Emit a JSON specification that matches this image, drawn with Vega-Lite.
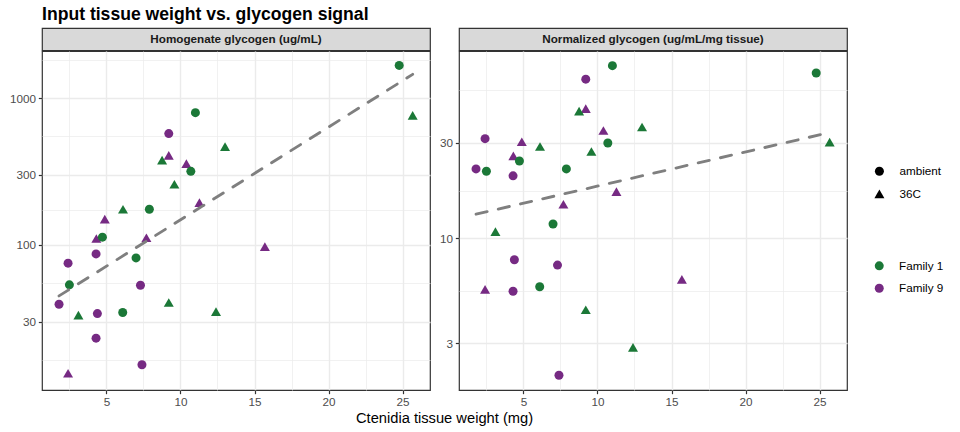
{
  "$schema": "https://vega.github.io/schema/vega-lite/v6.json",
  "background": "white",
  "padding": {"left": 8, "top": 5, "right": 5, "bottom": 2},
  "bounds": "flush",
  "columns": 2,
  "spacing": {"row": 0, "column": 29},
  "title": {"text": "Input tissue weight vs. glycogen signal", "anchor": "start", "frame": "group", "fontSize": 17.6, "fontWeight": "bold", "color": "black", "baseline": "alphabetic", "offset": -9.7},
  "datasets": {
    "pts": [
      {"w": 24.77, "hom": 1668, "norm": 66.7, "temp": "ambient", "fam": "Family 1"},
      {"w": 25.68, "hom": 762, "norm": 30.2, "temp": "36C", "fam": "Family 1"},
      {"w": 11.01, "hom": 795, "norm": 72.6, "temp": "ambient", "fam": "Family 1"},
      {"w": 9.21, "hom": 573, "norm": 62.2, "temp": "ambient", "fam": "Family 9"},
      {"w": 13.01, "hom": 467, "norm": 35.9, "temp": "36C", "fam": "Family 1"},
      {"w": 9.21, "hom": 407, "norm": 44.3, "temp": "36C", "fam": "Family 9"},
      {"w": 8.76, "hom": 378, "norm": 43.1, "temp": "36C", "fam": "Family 1"},
      {"w": 10.4, "hom": 358, "norm": 34.5, "temp": "36C", "fam": "Family 9"},
      {"w": 10.7, "hom": 317, "norm": 29.9, "temp": "ambient", "fam": "Family 1"},
      {"w": 9.59, "hom": 259, "norm": 27.1, "temp": "36C", "fam": "Family 1"},
      {"w": 11.28, "hom": 194, "norm": 17.1, "temp": "36C", "fam": "Family 9"},
      {"w": 7.9, "hom": 175, "norm": 22.2, "temp": "ambient", "fam": "Family 1"},
      {"w": 6.12, "hom": 175, "norm": 28.7, "temp": "36C", "fam": "Family 1"},
      {"w": 4.89, "hom": 150, "norm": 30.3, "temp": "36C", "fam": "Family 9"},
      {"w": 4.32, "hom": 110.7, "norm": 25.8, "temp": "36C", "fam": "Family 9"},
      {"w": 4.73, "hom": 113, "norm": 24.3, "temp": "ambient", "fam": "Family 1"},
      {"w": 7.7, "hom": 112, "norm": 14.8, "temp": "36C", "fam": "Family 9"},
      {"w": 15.7, "hom": 97.5, "norm": 6.25, "temp": "36C", "fam": "Family 9"},
      {"w": 4.3, "hom": 86.9, "norm": 20.5, "temp": "ambient", "fam": "Family 9"},
      {"w": 7.0, "hom": 81.6, "norm": 11.8, "temp": "ambient", "fam": "Family 1"},
      {"w": 2.41, "hom": 75.2, "norm": 31.4, "temp": "ambient", "fam": "Family 9"},
      {"w": 2.5, "hom": 53.5, "norm": 21.6, "temp": "ambient", "fam": "Family 1"},
      {"w": 7.3, "hom": 53.2, "norm": 7.36, "temp": "ambient", "fam": "Family 9"},
      {"w": 1.8, "hom": 39.5, "norm": 22.2, "temp": "ambient", "fam": "Family 9"},
      {"w": 9.21, "hom": 40.6, "norm": 4.41, "temp": "36C", "fam": "Family 1"},
      {"w": 3.11, "hom": 33.3, "norm": 10.8, "temp": "36C", "fam": "Family 1"},
      {"w": 4.39, "hom": 34.1, "norm": 7.83, "temp": "ambient", "fam": "Family 9"},
      {"w": 6.1, "hom": 34.7, "norm": 5.74, "temp": "ambient", "fam": "Family 1"},
      {"w": 12.4, "hom": 35.2, "norm": 2.86, "temp": "36C", "fam": "Family 1"},
      {"w": 4.3, "hom": 23.2, "norm": 5.45, "temp": "ambient", "fam": "Family 9"},
      {"w": 7.4, "hom": 15.3, "norm": 2.08, "temp": "ambient", "fam": "Family 9"},
      {"w": 2.41, "hom": 13.4, "norm": 5.57, "temp": "36C", "fam": "Family 9"}
    ],
    "fit": [
      {"w": 1.8, "hom": 45.0, "norm": 13.2},
      {"w": 25.68, "hom": 1449, "norm": 33.7}
    ],
    "strip1": [{"label": "Homogenate glycogen (ug/mL)"}],
    "strip2": [{"label": "Normalized glycogen (ug/mL/mg tissue)"}]
  },
  "concat": [
    {
      "data": {"name": "strip1"},
      "width": 388, "height": 22.4,
      "view": {"fill": "#D9D9D9", "stroke": "#333333", "strokeWidth": 1.2},
      "mark": {"type": "text", "fontSize": 11.7, "fontWeight": "bold", "color": "#1A1A1A", "align": "center", "baseline": "middle"},
      "encoding": {"text": {"field": "label", "type": "nominal"}}
    },
    {
      "data": {"name": "strip2"},
      "width": 388, "height": 22.4,
      "view": {"fill": "#D9D9D9", "stroke": "#333333", "strokeWidth": 1.2},
      "mark": {"type": "text", "fontSize": 11.7, "fontWeight": "bold", "color": "#1A1A1A", "align": "center", "baseline": "middle"},
      "encoding": {"text": {"field": "label", "type": "nominal"}}
    },
    {
      "width": 388, "height": 339,
      "layer": [
        {
          "data": {"name": "pts"},
          "mark": {"type": "point", "filled": true, "opacity": 1},
          "encoding": {
            "x": {"field": "w", "type": "quantitative", "scale": {"domain": [0.65, 26.85], "nice": false, "zero": false},
                  "axis": {"orient": "bottom", "values": [5, 10, 15, 20, 25], "grid": true, "title": "Ctenidia tissue weight (mg)", "titleX": 402, "titleY": 32, "titleAlign": "center", "titleBaseline": "alphabetic", "titleAnchor": null}},
            "y": {"field": "hom", "type": "quantitative", "scale": {"type": "log", "domain": [10.3, 2090], "nice": false},
                  "axis": {"orient": "left", "values": [30, 100, 300, 1000], "format": "d", "grid": true, "title": null}},
            "color": {"field": "fam", "type": "nominal", "scale": {"domain": ["Family 1", "Family 9"], "range": ["#1B7837", "#762A83"]},
                      "legend": {"title": null, "orient": "none", "legendX": 831.4, "legendY": 232, "symbolType": "circle", "symbolSize": 81, "labelFontSize": 11.7, "labelColor": "black", "labelOffset": 14, "rowPadding": 9.4, "padding": 0}},
            "shape": {"field": "temp", "type": "nominal", "scale": {"domain": ["ambient", "36C"], "range": ["circle", "triangle-up"]},
                      "legend": {"title": null, "orient": "none", "legendX": 831.4, "legendY": 137.4, "labelFontSize": 11.7, "labelColor": "black", "labelOffset": 14, "rowPadding": 6.4, "padding": 0,
                                 "encode": {"symbols": {"update": {"fill": {"value": "black"}, "stroke": {"value": "black"}, "strokeWidth": {"value": 0}}}}}},
            "size": {"field": "temp", "type": "nominal", "scale": {"domain": ["ambient", "36C"], "range": [81, 100]},
                      "legend": {"title": null, "orient": "none", "legendX": 831.4, "legendY": 137.4, "labelFontSize": 11.7, "labelColor": "black", "labelOffset": 14, "rowPadding": 6.4, "padding": 0,
                                 "encode": {"symbols": {"update": {"fill": {"value": "black"}, "stroke": {"value": "black"}, "strokeWidth": {"value": 0}}}}}}
          }
        },
        {
          "data": {"name": "fit"},
          "mark": {"type": "line", "color": "#7F7F7F", "strokeWidth": 2.85, "strokeDash": [11.4, 11.4], "strokeCap": "round"},
          "encoding": {
            "x": {"field": "w", "type": "quantitative",
                  "axis": {"orient": "top", "values": [2.5, 7.5, 12.5, 17.5, 22.5], "grid": true, "gridWidth": 0.71, "labels": false, "ticks": false, "domain": false, "title": null, "minExtent": 0, "maxExtent": 0, "offset": 0}},
            "y": {"field": "hom", "type": "quantitative",
                  "axis": {"orient": "right", "values": [16.43, 54.77, 173.2, 547.7, 1826], "grid": true, "gridWidth": 0.71, "labels": false, "ticks": false, "domain": false, "title": null, "minExtent": 0, "maxExtent": 0, "offset": 0}}
          }
        }
      ],
      "resolve": {"axis": {"x": "independent", "y": "independent"}}
    },
    {
      "width": 388, "height": 339,
      "layer": [
        {
          "data": {"name": "pts"},
          "mark": {"type": "point", "filled": true, "opacity": 1},
          "encoding": {
            "x": {"field": "w", "type": "quantitative", "scale": {"domain": [0.65, 26.85], "nice": false, "zero": false},
                  "axis": {"orient": "bottom", "values": [5, 10, 15, 20, 25], "grid": true, "title": null}},
            "y": {"field": "norm", "type": "quantitative", "scale": {"type": "log", "domain": [1.755, 85.9], "nice": false},
                  "axis": {"orient": "left", "values": [3, 10, 30], "format": "d", "grid": true, "title": null}},
            "color": {"field": "fam", "type": "nominal"},
            "shape": {"field": "temp", "type": "nominal"},
            "size": {"field": "temp", "type": "nominal"}
          }
        },
        {
          "data": {"name": "fit"},
          "mark": {"type": "line", "color": "#7F7F7F", "strokeWidth": 2.85, "strokeDash": [11.4, 11.4], "strokeCap": "round"},
          "encoding": {
            "x": {"field": "w", "type": "quantitative",
                  "axis": {"orient": "top", "values": [2.5, 7.5, 12.5, 17.5, 22.5], "grid": true, "gridWidth": 0.71, "labels": false, "ticks": false, "domain": false, "title": null, "minExtent": 0, "maxExtent": 0, "offset": 0}},
            "y": {"field": "norm", "type": "quantitative",
                  "axis": {"orient": "right", "values": [5.477, 17.32, 54.77], "grid": true, "gridWidth": 0.71, "labels": false, "ticks": false, "domain": false, "title": null, "minExtent": 0, "maxExtent": 0, "offset": 0}}
          }
        }
      ],
      "resolve": {"axis": {"x": "independent", "y": "independent"}}
    }
  ],
  "config": {
    "font": "Liberation Sans",
    "view": {"stroke": "#333333", "strokeWidth": 1.2},
    "axis": {"domain": false, "tickColor": "#333333", "tickSize": 3.67, "tickWidth": 1.2, "labelColor": "#4D4D4D", "labelFontSize": 11.7, "labelPadding": 2.93, "gridColor": "#EBEBEB", "gridWidth": 1.42, "titleFontSize": 14.7, "titleFontWeight": "normal", "titleColor": "black", "labelFont": "Liberation Sans", "titleFont": "Liberation Sans"},
    "legend": {"labelFont": "Liberation Sans"},
    "title": {"font": "Liberation Sans"}
  }
}
